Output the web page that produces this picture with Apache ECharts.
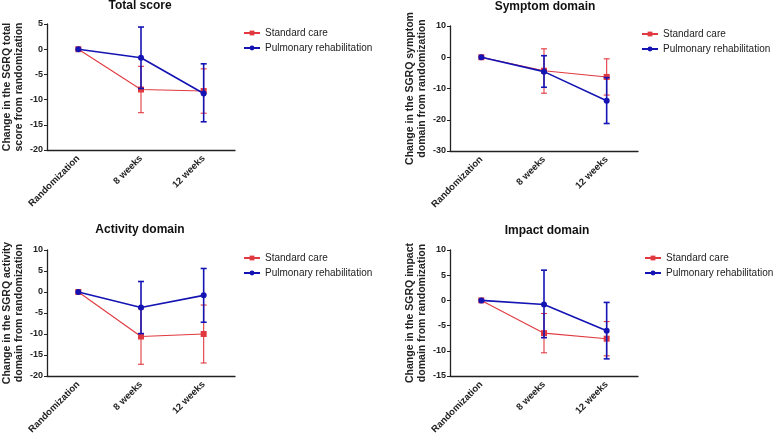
<!DOCTYPE html>
<html>
<head>
<meta charset="utf-8">
<script src="https://cdn.jsdelivr.net/npm/echarts@6/dist/echarts.min.js"></script>
<style>
  html, body { margin: 0; padding: 0; background: #fff; }
  #chart { width: 778px; height: 437px; }
</style>
</head>
<body>
<div id="chart"></div>
<script>
// categories / labels
const categories = ['Randomization', '8 weeks', '12 weeks']
const seriesNames = ['Standard care', 'Pulmonary rehabilitation']
const panelTitles = ['Total score', 'Symptom domain', 'Activity domain', 'Impact domain']
const axisNames = [
  'Change in the SGRQ total\nscore from randomization',
  'Change in the SGRQ symptom\ndomain from randomization',
  'Change in the SGRQ activity\ndomain from randomization',
  'Change in the SGRQ impact\ndomain from randomization'
]
const yMin = [-20, -30, -20, -15]
const yMax = [5, 10, 10, 10]
const yStep = [5, 10, 5, 5]

// Total score
const totalCare = [0, -8.0, -8.3]
const totalCareHigh = [0, -3.4, -3.9]
const totalCareLow = [0, -12.6, -12.7]
const totalRehab = [0, -1.7, -8.8]
const totalRehabHigh = [0, 4.4, -2.9]
const totalRehabLow = [0, -7.8, -14.4]

// Symptom domain
const symptomCare = [0, -4.3, -6.3]
const symptomCareHigh = [0, 2.7, -0.5]
const symptomCareLow = [0, -11.5, -12.1]
const symptomRehab = [0, -4.6, -13.9]
const symptomRehabHigh = [0, 0.5, -6.5]
const symptomRehabLow = [0, -9.6, -21.2]

// Activity domain
const activityCare = [0, -10.6, -10.0]
const activityCareHigh = [0, -4.0, -3.1]
const activityCareLow = [0, -17.2, -16.9]
const activityRehab = [0, -3.7, -0.8]
const activityRehabHigh = [0, 2.5, 5.6]
const activityRehabLow = [0, -9.9, -7.2]

// Impact domain
const impactCare = [0, -6.5, -7.6]
const impactCareHigh = [0, -2.6, -4.2]
const impactCareLow = [0, -10.4, -11.0]
const impactRehab = [0, -0.8, -6.0]
const impactRehabHigh = [0, 6.0, -0.4]
const impactRehabLow = [0, -7.4, -11.6]

const panels = [
  [[totalCare, totalCareLow, totalCareHigh], [totalRehab, totalRehabLow, totalRehabHigh]],
  [[symptomCare, symptomCareLow, symptomCareHigh], [symptomRehab, symptomRehabLow, symptomRehabHigh]],
  [[activityCare, activityCareLow, activityCareHigh], [activityRehab, activityRehabLow, activityRehabHigh]],
  [[impactCare, impactCareLow, impactCareHigh], [impactRehab, impactRehabLow, impactRehabHigh]]
]

const RED = '#e03a40'
const BLUE = '#1414b4'
const FONT = 'Arial, "Liberation Sans", sans-serif'

const gridPos = [
  { left: 45, top: 24, width: 190, height: 126 },
  { left: 450, top: 26, width: 188, height: 125 },
  { left: 45, top: 250, width: 190, height: 126 },
  { left: 450, top: 250, width: 188, height: 126 }
]
const titlePos = [[140, 0], [545, 1], [140, 224], [547, 225]]
const legendPos = [[243, 28], [641, 29], [243, 253], [644, 253]]

function errorBar (params, api) {
  const idx = api.value(0)
  const lo = api.value(1)
  const hi = api.value(2)
  if (lo === hi) return null
  const top = api.coord([idx, hi])
  const bot = api.coord([idx, lo])
  const w = 3
  const style = { stroke: api.visual('color'), lineWidth: params.seriesIndex % 4 === 2 ? 1.6 : 1.1 }
  return {
    type: 'group',
    children: [
      { type: 'line', shape: { x1: top[0], y1: top[1], x2: bot[0], y2: bot[1] }, style: style },
      { type: 'line', shape: { x1: top[0] - w, y1: top[1], x2: top[0] + w, y2: top[1] }, style: style },
      { type: 'line', shape: { x1: bot[0] - w, y1: bot[1], x2: bot[0] + w, y2: bot[1] }, style: style }
    ]
  }
}

const option = {
  animation: false,
  backgroundColor: '#fff',
  textStyle: { fontFamily: FONT },
  title: [],
  legend: [],
  grid: [],
  xAxis: [],
  yAxis: [],
  series: []
}

panels.forEach((panel, i) => {
  option.title.push({
    text: panelTitles[i],
    left: titlePos[i][0],
    top: titlePos[i][1],
    textAlign: 'center',
    padding: 0,
    textStyle: { fontSize: 12, fontWeight: 'bold', color: '#111', fontFamily: FONT }
  })
  option.legend.push({
    data: seriesNames,
    orient: 'vertical',
    left: legendPos[i][0],
    top: legendPos[i][1],
    padding: 0,
    itemGap: 5,
    itemWidth: 16,
    itemHeight: 6,
    textStyle: { fontSize: 10, color: '#222', fontFamily: FONT }
  })
  option.grid.push(Object.assign({ containLabel: false }, gridPos[i]))
  option.xAxis.push({
    type: 'category',
    gridIndex: i,
    data: categories,
    boundaryGap: true,
    axisLine: { onZero: false, lineStyle: { color: '#222', width: 1.3 } },
    axisTick: { alignWithLabel: true, length: 3, lineStyle: { color: '#222' } },
    axisLabel: { rotate: 45, margin: 7, fontSize: 9.5, fontWeight: 'bold', color: '#222', fontFamily: FONT, interval: 0 },
    splitLine: { show: false }
  })
  option.yAxis.push({
    type: 'value',
    gridIndex: i,
    min: yMin[i],
    max: yMax[i],
    interval: yStep[i],
    name: axisNames[i],
    nameLocation: 'middle',
    nameRotate: 90,
    nameGap: 22,
    nameTextStyle: { fontSize: 10.5, fontWeight: 'bold', color: '#222', lineHeight: 12, fontFamily: FONT },
    axisLine: { show: true, onZero: false, lineStyle: { color: '#222', width: 1.3 } },
    axisTick: { show: true, length: 3, lineStyle: { color: '#222' } },
    axisLabel: { margin: 4, fontSize: 9, fontWeight: 'bold', color: '#222', fontFamily: FONT },
    splitLine: { show: false }
  })
  panel.forEach((s, k) => {
    const color = k === 0 ? RED : BLUE
    option.series.push({
      type: 'custom',
      xAxisIndex: i,
      yAxisIndex: i,
      renderItem: errorBar,
      itemStyle: { color: color },
      data: s[0].map((v, j) => [j, s[1][j], s[2][j]]),
      z: k === 0 ? 2 : 4
    })
    option.series.push({
      name: seriesNames[k],
      type: 'line',
      xAxisIndex: i,
      yAxisIndex: i,
      data: s[0],
      symbol: k === 0 ? 'rect' : 'circle',
      symbolSize: 6,
      itemStyle: { color: color },
      lineStyle: { color: color, width: k === 0 ? 1.1 : 1.6 },
      z: k === 0 ? 3 : 5
    })
  })
})

const myChart = echarts.init(document.getElementById('chart'))
myChart.setOption(option)
</script>
</body>
</html>
